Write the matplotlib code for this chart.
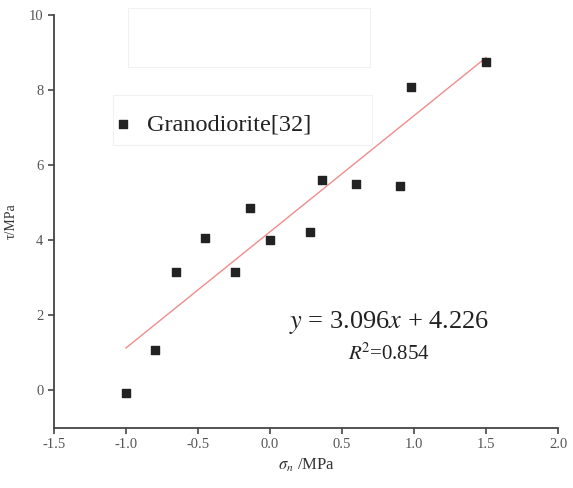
import numpy as np
import matplotlib.pyplot as plt
from matplotlib.patches import Rectangle

plt.rcParams['font.family'] = 'Liberation Serif'
plt.rcParams['mathtext.fontset'] = 'stix'

# Granodiorite[32] shear test data
sigma_n = [-1.0, -0.8, -0.65, -0.45, -0.24, -0.14, 0.0, 0.28, 0.36, 0.60, 0.90, 0.98, 1.50]
tau = [-0.07, 1.09, 3.15, 4.05, 3.15, 4.87, 4.0, 4.21, 5.62, 5.50, 5.46, 8.08, 8.75]

slope = 3.096
intercept = 4.226
r2 = 0.854
fit_x = np.array([-1.0, 1.5])

fig = plt.figure(figsize=(5.73, 4.88), dpi=100)
ax = fig.add_axes([0.094, 0.123, 0.880, 0.846])

ax.plot(fit_x, slope * fit_x + intercept, color='#f28c8c', lw=1.0, zorder=2)
ax.scatter(sigma_n, tau, marker='s', s=40, color='#222222', zorder=3,
           label='Granodiorite[32]')

ax.set_xlim(-1.5, 2.0)
ax.set_ylim(-1, 10)
ax.set_xticks(np.arange(-1.5, 2.01, 0.5))
ax.set_yticks(np.arange(0, 10.1, 2))
ax.xaxis.set_major_formatter(plt.FormatStrFormatter('%.1f'))

for side in ['top', 'right']:
    ax.spines[side].set_visible(False)
for side in ['left', 'bottom']:
    ax.spines[side].set_color('#444444')
    ax.spines[side].set_linewidth(1.3)
ax.tick_params(direction='out', length=4, width=1.2, color='#444444',
               labelsize=10.5, labelcolor='#555555')

ax.set_xlabel(r'$\sigma_n$ /MPa', fontsize=12, color='#333333', labelpad=4)
ax.set_ylabel('τ/MPa', fontsize=10, color='#333333', labelpad=8)

leg = ax.legend(loc='center left', bbox_to_anchor=(0.113, 0.736), fontsize=17.5,
                frameon=False, handletextpad=0.5, handlelength=1.0,
                borderaxespad=0, borderpad=0, markerscale=1.0)
for t in leg.get_texts():
    t.set_color('#222222')

# faint boxes around the legend and the empty area above it
for (x0, y0, w, h) in [(0.147, 0.874, 0.48, 0.143), (0.117, 0.685, 0.514, 0.121)]:
    ax.add_patch(Rectangle((x0, y0), w, h, transform=ax.transAxes,
                           fill=False, edgecolor='#f1f1f1', lw=0.8, clip_on=False))

ax.text(0.665, 0.256, r'$y$ = 3.096$x$ + 4.226', transform=ax.transAxes,
        fontsize=19, ha='center', va='center', color='#222222')
ax.text(0.665, 0.18, r'$R$$^{2}$=%.3f' % r2, transform=ax.transAxes,
        fontsize=15, ha='center', va='center', color='#222222')

fig.savefig('out.png', dpi=100)
